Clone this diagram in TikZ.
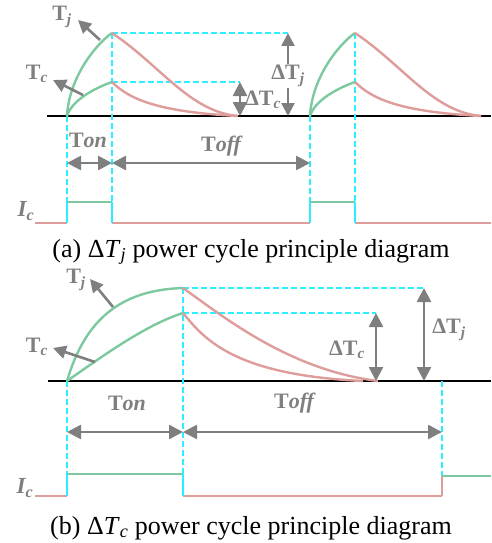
\documentclass[tikz,border=0pt]{standalone}
\usepackage{fontspec}
\setmainfont{Liberation Serif}
\usetikzlibrary{arrows.meta, positioning}
\definecolor{mint}{HTML}{7CC9A0}
\definecolor{rose}{HTML}{DE9C9A}
\definecolor{aqua}{HTML}{2BEFFF}
\definecolor{dkgray}{HTML}{7F7F7F}

\tikzset{
  heatcurve/.style={mint, line width=2.4pt},
  coolcurve/.style={rose, line width=2.4pt},
  pulse/.style={line width=2pt},
  guide/.style={aqua, line width=2.2pt, dash pattern=on 6pt off 3pt},
  axisline/.style={black, line width=2.4pt},
  measure/.style={dkgray, line width=2.6pt, -{Triangle[length=13pt, width=13pt]}},
  twoway/.style={dkgray, line width=2.6pt, {Triangle[length=14pt, width=14pt]}-{Triangle[length=14pt, width=14pt]}},
  lbl/.style={text=dkgray, font=\fontsize{22}{24}\selectfont\bfseries, inner sep=1pt},
  caption/.style={font=\fontsize{26}{30}\selectfont, inner sep=0pt, anchor=base},
}

\begin{document}
\begin{tikzpicture}[x=1pt, y=-1pt]

% Frame
\useasboundingbox (0,0) rectangle (491,543);

% --- (a) Delta Tj power cycle ---
\draw[axisline] (47,116) -- (491,116);
% Guides
\draw[guide] (112,33) -- (288,33);
\draw[guide] (112,82) -- (240,82);
\draw[guide] (67,116) -- (67,202);
\draw[guide] (112,33) -- (112,202);
\draw[guide] (310,116) -- (310,202);
\draw[guide] (355,33) -- (355,202);
% Temperature curves, two pulses
\foreach \dx in {0,243} {
  \begin{scope}[xshift=\dx]
    \draw[heatcurve] (67,116) .. controls (69,78) and (95,45) .. (112,33);
    \draw[heatcurve] (67,116) .. controls (72,100) and (95,88) .. (112,82);
    \draw[coolcurve] (112,33) .. controls (160,65) and (190,112) .. (238,116);
    \draw[coolcurve] (112,82) .. controls (130,100) and (160,112) .. (238,116);
  \end{scope}
}
% Labels
\node[lbl] (Tja) at (62,17) {T\textsubscript{\itshape j}};
\coordinate (Tjaon) at (100,40);
\coordinate (Tjatip) at (78,20);
\draw[measure] (Tjaon) -- (Tjatip);
\node[lbl] (Tca) at (37,74) {T\textsubscript{\itshape c}};
\coordinate (Tcaon) at (83,95);
\coordinate (Tcatip) at (53,80);
\draw[measure] (Tcaon) -- (Tcatip);
% Delta T
\node[lbl] (dTja) at (288,76) {ΔT\textsubscript{\itshape j}};
\coordinate (dTjatop) at (288,33);
\coordinate (dTjabot) at (288,116);
\draw[measure] (dTja.north) -- (dTjatop);
\draw[measure] (dTja.south) -- (dTjabot);
\node[lbl] (dTca) at (263,100) {ΔT\textsubscript{\itshape c}};
\coordinate (dTcatop) at (240,82);
\coordinate (dTcabot) at (240,116);
\draw[twoway] (dTcatop) -- (dTcabot);
% Ton / Toff
\node[lbl] (Tona) at (88,140) {T\textit{on}};
\node[lbl] (Toffa) at (222,146) {T\textit{off}};
\coordinate (Ona) at (67,163);
\coordinate (Onb) at (112,163);
\coordinate (Offb) at (310,163);
\draw[twoway] (Ona) -- (Onb);
\draw[twoway] (Onb) -- (Offb);
% Current
\node[lbl, font=\fontsize{23}{24}\selectfont\bfseries\itshape] (Ica) at (26,211) {I\textsubscript{c}};
\draw[coolcurve, pulse] (35,223) -- (67,223);
\draw[heatcurve, pulse] (67,202) -- (112,202);
\draw[coolcurve, pulse] (112,223) -- (310,223);
\draw[heatcurve, pulse] (310,202) -- (355,202);
\draw[coolcurve, pulse] (355,223) -- (491,223);
\draw[aqua, pulse] (67,202) -- (67,223);
\draw[aqua, pulse] (112,202) -- (112,223);
\draw[aqua, pulse] (310,202) -- (310,223);
\draw[aqua, pulse] (355,202) -- (355,223);
\node[caption] (capa) at (251,257) {(a) Δ\textit{T}\textsubscript{\textit{j}} power cycle principle diagram};

% --- (b) Delta Tc power cycle ---
\draw[axisline] (48,381) -- (491,381);
% Guides
\draw[guide] (183,288) -- (424,288);
\draw[guide] (183,313) -- (376,313);
\draw[guide] (67,381) -- (67,474);
\draw[guide] (183,288) -- (183,474);
\draw[guide] (442,381) -- (442,476);
% Temperature curves
\draw[heatcurve] (67,381) .. controls (85,320) and (120,290) .. (183,288);
\draw[heatcurve] (67,381) .. controls (100,358) and (145,325) .. (183,313);
\draw[coolcurve] (183,288) .. controls (225,318) and (290,370) .. (378,381);
\draw[coolcurve] (183,313) .. controls (205,340) and (235,375) .. (363,381);
% Labels
\node[lbl] (Tjb) at (76,280) {T\textsubscript{\itshape j}};
\coordinate (Tjbon) at (113,307);
\coordinate (Tjbtip) at (90,279);
\draw[measure] (Tjbon) -- (Tjbtip);
\node[lbl] (Tcb) at (37,347) {T\textsubscript{\itshape c}};
\coordinate (Tcbon) at (95,362);
\coordinate (Tcbtip) at (53,348);
\draw[measure] (Tcbon) -- (Tcbtip);
% Delta T
\node[lbl] (dTcb) at (347,350) {ΔT\textsubscript{\itshape c}};
\coordinate (dTcbtop) at (376,313);
\coordinate (dTcbbot) at (376,381);
\draw[twoway] (dTcbtop) -- (dTcbbot);
\node[lbl] (dTjb) at (449,330) {ΔT\textsubscript{\itshape j}};
\coordinate (dTjbtop) at (424,288);
\coordinate (dTjbbot) at (424,381);
\draw[twoway] (dTjbtop) -- (dTjbbot);
% Ton / Toff
\node[lbl] (Tonb) at (127,403) {T\textit{on}};
\node[lbl] (Toffb) at (295,403) {T\textit{off}};
\coordinate (Onc) at (67,432);
\coordinate (Ond) at (183,432);
\coordinate (Offd) at (442,432);
\draw[twoway] (Onc) -- (Ond);
\draw[twoway] (Ond) -- (Offd);
% Current
\node[lbl, font=\fontsize{23}{24}\selectfont\bfseries\itshape] (Icb) at (25,488) {I\textsubscript{c}};
\draw[coolcurve, pulse] (35,496) -- (67,496);
\draw[heatcurve, pulse] (67,474) -- (183,474);
\draw[coolcurve, pulse] (183,496) -- (442,496);
\draw[coolcurve, pulse] (442,496) -- (442,476);
\draw[heatcurve, pulse] (442,476) -- (491,476);
\draw[aqua, pulse] (67,474) -- (67,496);
\draw[aqua, pulse] (183,474) -- (183,496);
\node[caption] (capb) at (251,534) {(b) Δ\textit{T}\textsubscript{\textit{c}} power cycle principle diagram};

\end{tikzpicture}
\end{document}
